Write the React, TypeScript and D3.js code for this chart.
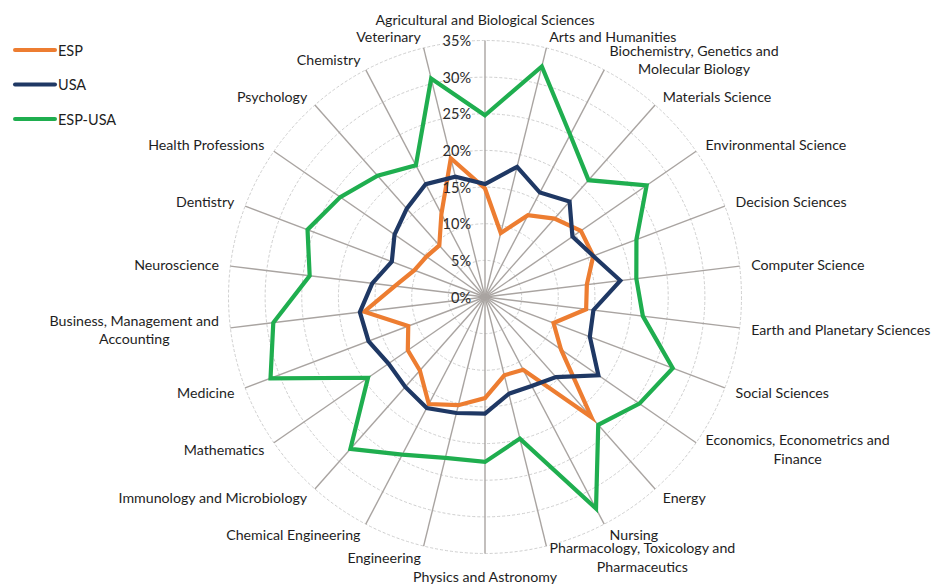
import { useMemo } from 'react';
import * as d3 from 'd3';

const categories = [
  'Agricultural and Biological Sciences',
  'Arts and Humanities',
  'Biochemistry, Genetics and\nMolecular Biology',
  'Materials Science',
  'Environmental Science',
  'Decision Sciences',
  'Computer Science',
  'Earth and Planetary Sciences',
  'Social Sciences',
  'Economics, Econometrics and\nFinance',
  'Energy',
  'Nursing',
  'Pharmacology, Toxicology and\nPharmaceutics',
  'Physics and Astronomy',
  'Engineering',
  'Chemical Engineering',
  'Immunology and Microbiology',
  'Mathematics',
  'Medicine',
  'Business, Management and\nAccounting',
  'Neuroscience',
  'Dentistry',
  'Health Professions',
  'Psychology',
  'Chemistry',
  'Veterinary',
];

const espValues = [14.8, 9.0, 12.6, 14.3, 15.9, 15.8, 14.0, 13.9, 10.0, 12.6, 21.9, 11.2, 11.0, 13.8, 15.2, 16.5, 13.4, 12.8, 11.2, 16.6, 12.4, 10.3, 9.7, 9.4, 12.8, 19.5];
const usaValues = [15.4, 18.3, 16.1, 17.4, 14.5, 15.8, 18.6, 14.9, 15.3, 18.8, 14.6, 13.7, 13.6, 15.9, 16.3, 17.1, 16.4, 16.0, 17.0, 17.2, 15.5, 13.6, 15.0, 16.1, 17.4, 16.9];
const espUsaValues = [24.8, 32.4, 25.0, 21.3, 26.8, 22.1, 20.8, 21.7, 27.4, 25.6, 23.3, 32.6, 19.9, 22.5, 22.6, 24.3, 27.7, 19.4, 31.3, 29.1, 24.1, 25.9, 24.0, 22.1, 20.3, 30.7];

const tickValues = [0, 5, 10, 15, 20, 25, 30, 35];
const seriesNames = ['ESP', 'USA', 'ESP-USA'];
const seriesColors = ['#ed7d31', '#1f3864', '#1fae4f'];

const FONT = 'Lato, "Open Sans", sans-serif';
const LABEL_SIZE = 14.2;

let ctx: CanvasRenderingContext2D | null = null;
function textWidth(s: string, size: number) {
  if (!ctx) ctx = document.createElement('canvas').getContext('2d');
  if (!ctx) return s.length * size * 0.5;
  ctx.font = `${size}px Lato`;
  return ctx.measureText(s).width;
}

export default function App() {
  const width = 934;
  const height = 584;
  const cx = 485;
  const cy = 297;
  const outer = 256.5;

  const r = d3.scaleLinear().domain([0, 35]).range([0, outer]);
  const n = categories.length;
  const angle = (i: number) => (i * 2 * Math.PI) / n;

  const series = [espValues, usaValues, espUsaValues];

  const line = d3
    .lineRadial<number>()
    .angle((_, i) => angle(i))
    .radius((d) => r(d))
    .curve(d3.curveLinearClosed);

  const labels = useMemo(
    () =>
      categories.map((c, i) => {
        const a = angle(i);
        const s = Math.sin(a);
        const co = Math.cos(a);
        const R = 268;
        const x = cx + R * s;
        let y = cy - R * co;
        const lines = c.split('\n');
        const lineH = 18.5;
        const w = Math.max(...lines.map((l) => textWidth(l, LABEL_SIZE)));
        let mid: number;
        if (Math.abs(s) < 0.01) {
          mid = x;
          y += co > 0 ? -10 : 11;
        } else if (s > 0) {
          mid = x + w / 2;
        } else {
          mid = x - w / 2;
        }
        const y0 = y - ((lines.length - 1) * lineH) / 2;
        return { lines, mid, y0, lineH, key: i };
      }),
    []
  );

  return (
    <svg
      width={width}
      height={height}
      style={{ position: 'absolute', left: 0, top: 0, background: '#fff' }}
      fontFamily={FONT}
    >
      <g transform={`translate(${cx},${cy})`}>
        {/* rings */}
        {tickValues.slice(1).map((t) => (
          <circle
            key={t}
            r={r(t)}
            fill="none"
            stroke="#cfcfcf"
            strokeWidth={1}
            strokeDasharray="3 2"
          />
        ))}
        {/* spokes */}
        {categories.map((_, i) => (
          <line
            key={i}
            x1={0}
            y1={0}
            x2={outer * Math.sin(angle(i))}
            y2={-outer * Math.cos(angle(i))}
            stroke="#a9a4a1"
            strokeWidth={1.4}
          />
        ))}
        {/* series */}
        {series.map((vals, k) => (
          <path
            key={k}
            d={line(vals) ?? ''}
            fill="none"
            stroke={seriesColors[k]}
            strokeWidth={4.2}
            strokeLinejoin="miter"
            strokeMiterlimit={6}
          />
        ))}
        {/* tick labels */}
        {tickValues.map((t) => (
          <text
            key={t}
            x={-14}
            y={-r(t)}
            textAnchor="end"
            dominantBaseline="central"
            fontSize={14.5}
            fill="#2a2a2a"
          >
            {t}%
          </text>
        ))}
      </g>

      {/* category labels */}
      {labels.map((l) => (
        <text key={l.key} fontSize={LABEL_SIZE} fill="#1e1e1e" textAnchor="middle">
          {l.lines.map((s, j) => (
            <tspan key={j} x={l.mid} y={l.y0 + j * l.lineH} dominantBaseline="central">
              {s}
            </tspan>
          ))}
        </text>
      ))}

      {/* legend */}
      {seriesNames.map((name, k) => (
        <g key={name} transform={`translate(15,${50 + k * 34.5})`}>
          <line x1={0} x2={40} y1={0} y2={0} stroke={seriesColors[k]} strokeWidth={4} strokeLinecap="round" />
          <text x={43} y={0} dominantBaseline="central" fontSize={14.5} fill="#1e1e1e">
            {name}
          </text>
        </g>
      ))}
    </svg>
  );
}
